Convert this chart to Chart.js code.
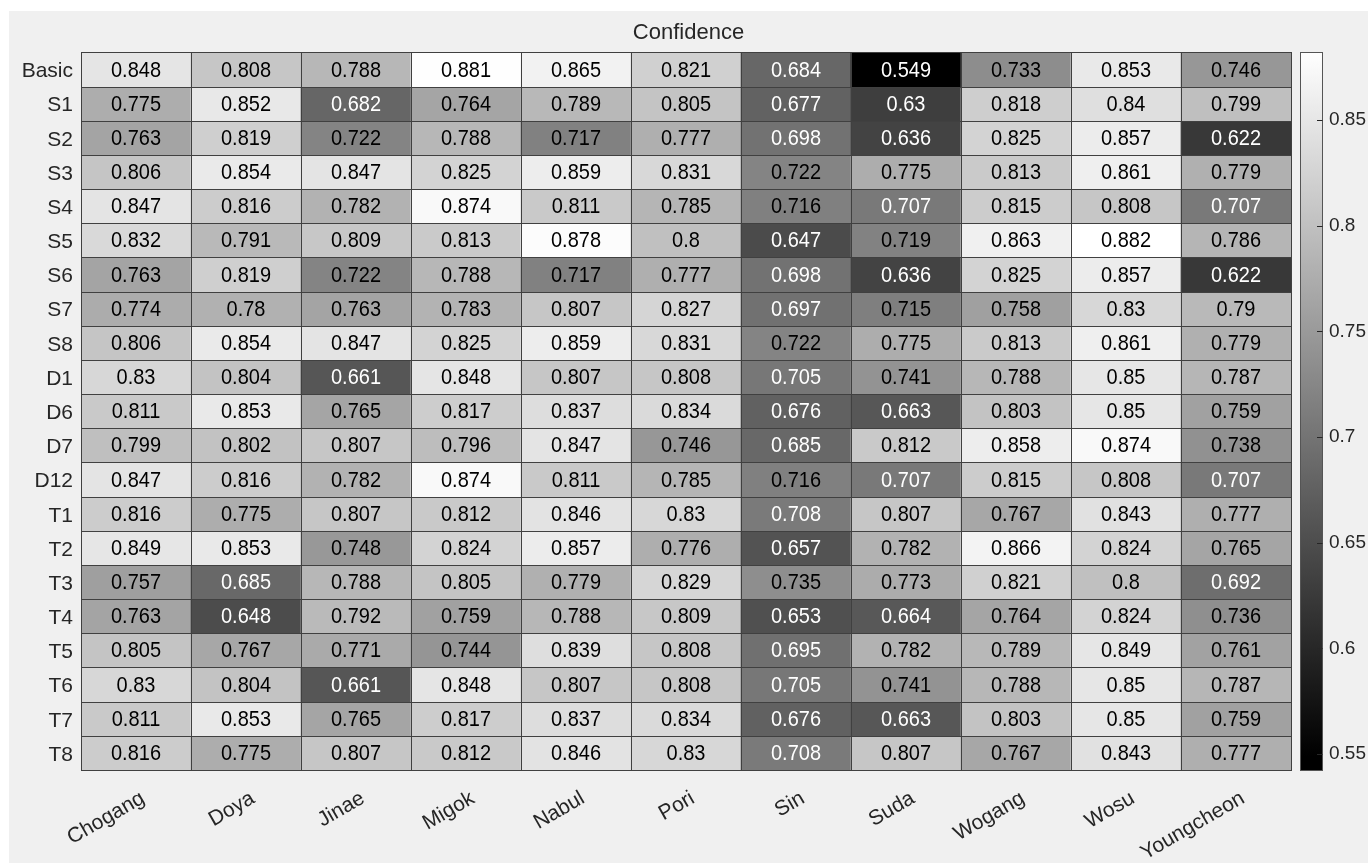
<!DOCTYPE html>
<html lang="en">

<head>
    <meta charset="UTF-8">
    <title>Confidence</title>
    <style>
        body {
            margin: 0;
            padding: 0;
            background-color: #fff;
        }

        #figure {
            position: absolute;
            left: 9px;
            top: 11px;
            width: 1359px;
            height: 852px;
            background-color: #f0f0f0;
        }
    </style>
</head>

<body>
    <div id="figure">
        <canvas id="heatmap" width="1359" height="852"></canvas>
    </div>

    <script src="https://cdn.jsdelivr.net/npm/chart.js"></script>
    <script>
        const stations = ['Chogang', 'Doya', 'Jinae', 'Migok', 'Nabul', 'Pori', 'Sin', 'Suda', 'Wogang', 'Wosu', 'Youngcheon'];
        const settings = ['Basic', 'S1', 'S2', 'S3', 'S4', 'S5', 'S6', 'S7', 'S8', 'D1', 'D6', 'D7', 'D12',
            'T1', 'T2', 'T3', 'T4', 'T5', 'T6', 'T7', 'T8'];

        // one row per setting, one column per station
        const confidence = [
            [0.848, 0.808, 0.788, 0.881, 0.865, 0.821, 0.684, 0.549, 0.733, 0.853, 0.746],
            [0.775, 0.852, 0.682, 0.764, 0.789, 0.805, 0.677, 0.63, 0.818, 0.84, 0.799],
            [0.763, 0.819, 0.722, 0.788, 0.717, 0.777, 0.698, 0.636, 0.825, 0.857, 0.622],
            [0.806, 0.854, 0.847, 0.825, 0.859, 0.831, 0.722, 0.775, 0.813, 0.861, 0.779],
            [0.847, 0.816, 0.782, 0.874, 0.811, 0.785, 0.716, 0.707, 0.815, 0.808, 0.707],
            [0.832, 0.791, 0.809, 0.813, 0.878, 0.8, 0.647, 0.719, 0.863, 0.882, 0.786],
            [0.763, 0.819, 0.722, 0.788, 0.717, 0.777, 0.698, 0.636, 0.825, 0.857, 0.622],
            [0.774, 0.78, 0.763, 0.783, 0.807, 0.827, 0.697, 0.715, 0.758, 0.83, 0.79],
            [0.806, 0.854, 0.847, 0.825, 0.859, 0.831, 0.722, 0.775, 0.813, 0.861, 0.779],
            [0.83, 0.804, 0.661, 0.848, 0.807, 0.808, 0.705, 0.741, 0.788, 0.85, 0.787],
            [0.811, 0.853, 0.765, 0.817, 0.837, 0.834, 0.676, 0.663, 0.803, 0.85, 0.759],
            [0.799, 0.802, 0.807, 0.796, 0.847, 0.746, 0.685, 0.812, 0.858, 0.874, 0.738],
            [0.847, 0.816, 0.782, 0.874, 0.811, 0.785, 0.716, 0.707, 0.815, 0.808, 0.707],
            [0.816, 0.775, 0.807, 0.812, 0.846, 0.83, 0.708, 0.807, 0.767, 0.843, 0.777],
            [0.849, 0.853, 0.748, 0.824, 0.857, 0.776, 0.657, 0.782, 0.866, 0.824, 0.765],
            [0.757, 0.685, 0.788, 0.805, 0.779, 0.829, 0.735, 0.773, 0.821, 0.8, 0.692],
            [0.763, 0.648, 0.792, 0.759, 0.788, 0.809, 0.653, 0.664, 0.764, 0.824, 0.736],
            [0.805, 0.767, 0.771, 0.744, 0.839, 0.808, 0.695, 0.782, 0.789, 0.849, 0.761],
            [0.83, 0.804, 0.661, 0.848, 0.807, 0.808, 0.705, 0.741, 0.788, 0.85, 0.787],
            [0.811, 0.853, 0.765, 0.817, 0.837, 0.834, 0.676, 0.663, 0.803, 0.85, 0.759],
            [0.816, 0.775, 0.807, 0.812, 0.846, 0.83, 0.708, 0.807, 0.767, 0.843, 0.777]
        ];

        // colorbar scale limits and ticks
        const colorbarMin = 0.5425;
        const colorbarMax = 0.882;
        const colorTicks = [0.55, 0.6, 0.65, 0.7, 0.75, 0.8, 0.85];

        const FONT = "'Liberation Sans', Arial, Helvetica, sans-serif";
        const allValues = confidence.flat();
        const vMin = Math.min(...allValues);
        const vMax = Math.max(...allValues);

        // gray colormap: black at the minimum, white at the maximum
        function level(v) {
            return (v - vMin) / (vMax - vMin);
        }
        function grayOf(v) {
            const g = Math.round(level(v) * 255);
            return `rgb(${g}, ${g}, ${g})`;
        }

        // each setting is one dataset of floating bars spanning its row
        const datasets = settings.map((name, i) => ({
            label: name,
            data: confidence[i].map((v, j) => ({ x: stations[j], y: [i, i + 1], v: v })),
            backgroundColor: confidence[i].map(grayOf),
            borderWidth: 0,
            grouped: false,
            barPercentage: 1,
            categoryPercentage: 1
        }));

        // cell borders and value labels
        const cellLabels = {
            id: 'cellLabels',
            afterDatasetsDraw(chart) {
                const ctx = chart.ctx;
                ctx.save();
                ctx.strokeStyle = '#404040';
                ctx.lineWidth = 1;
                chart.data.datasets.forEach((ds, i) => {
                    chart.getDatasetMeta(i).data.forEach((bar) => {
                        const left = Math.round(bar.x - bar.width / 2);
                        const right = Math.round(bar.x + bar.width / 2);
                        const top = Math.round(Math.min(bar.y, bar.base));
                        const bottom = Math.round(Math.max(bar.y, bar.base));
                        ctx.strokeRect(left + 0.5, top + 0.5, right - left, bottom - top);
                    });
                });
                ctx.font = `20px ${FONT}`;
                ctx.textAlign = 'center';
                ctx.textBaseline = 'middle';
                chart.data.datasets.forEach((ds, i) => {
                    chart.getDatasetMeta(i).data.forEach((bar, j) => {
                        const v = ds.data[j].v;
                        ctx.fillStyle = level(v) < 0.49 ? '#ffffff' : '#000000';
                        ctx.save();
                        ctx.translate(bar.x, (bar.y + bar.base) / 2 + 1);
                        ctx.scale(1, 1.1);
                        ctx.fillText(String(v), 0, 0);
                        ctx.restore();
                    });
                });
                ctx.restore();
            }
        };

        // gradient bar next to the grid
        const colorbar = {
            id: 'colorbar',
            afterDraw(chart) {
                const scale = chart.scales.cb;
                const ctx = chart.ctx;
                const x0 = Math.round(scale.left) + 9;
                const w = 22;
                const top = Math.round(scale.getPixelForValue(colorbarMax));
                const bottom = Math.round(scale.getPixelForValue(colorbarMin));
                const grad = ctx.createLinearGradient(0, bottom, 0, top);
                grad.addColorStop(0, '#000');
                grad.addColorStop((vMin - colorbarMin) / (colorbarMax - colorbarMin), '#000');
                grad.addColorStop((vMax - colorbarMin) / (colorbarMax - colorbarMin), '#fff');
                ctx.save();
                ctx.fillStyle = grad;
                ctx.fillRect(x0, top, w, bottom - top);
                ctx.strokeStyle = '#555';
                ctx.lineWidth = 1;
                ctx.strokeRect(x0 + 0.5, top + 0.5, w, bottom - top);
                ctx.strokeStyle = '#262626';
                scale.ticks.forEach((t) => {
                    const y = Math.round(scale.getPixelForValue(t.value)) + 0.5;
                    ctx.beginPath();
                    ctx.moveTo(x0 + w - 5, y);
                    ctx.lineTo(x0 + w + 0.5, y);
                    ctx.stroke();
                });
                ctx.restore();
            }
        };

        // keep the grid flush with the title: no extra room for edge labels
        function noEdgePadding(scale) {
            scale.paddingTop = 0;
            scale.paddingBottom = 0;
            scale.paddingLeft = 0;
            scale.paddingRight = 0;
        }

        const chart = new Chart(document.getElementById('heatmap'), {
            type: 'bar',
            data: { labels: stations, datasets: datasets },
            plugins: [cellLabels, colorbar],
            options: {
                responsive: false,
                animation: false,
                events: [],
                devicePixelRatio: 1,
                layout: { padding: 0 },
                plugins: {
                    legend: { display: false },
                    tooltip: { enabled: false },
                    title: {
                        display: true,
                        text: 'Confidence',
                        color: '#262626',
                        font: { family: FONT, size: 22, weight: 'normal' },
                        padding: { top: 9, bottom: 6 }
                    }
                },
                scales: {
                    x: {
                        type: 'category',
                        offset: true,
                        grid: { display: false, drawTicks: false },
                        border: { display: false },
                        ticks: {
                            color: '#262626',
                            font: { family: FONT, size: 21 },
                            minRotation: 30,
                            maxRotation: 30,
                            autoSkip: false,
                            labelOffset: 7,
                            padding: 16
                        },
                        afterFit(scale) {
                            scale.height = 93;
                            noEdgePadding(scale);
                        }
                    },
                    y: {
                        type: 'linear',
                        min: 0,
                        max: settings.length,
                        reverse: true,
                        grid: { display: false, drawTicks: false },
                        border: { display: false },
                        afterBuildTicks(scale) {
                            scale.ticks = settings.map((s, i) => ({ value: i + 0.5 }));
                        },
                        ticks: {
                            color: '#262626',
                            font: { family: FONT, size: 21 },
                            autoSkip: false,
                            padding: 8,
                            labelOffset: 2,
                            callback: (value) => settings[Math.floor(value)]
                        },
                        afterFit(scale) {
                            scale.width = 72;
                            noEdgePadding(scale);
                        }
                    },
                    cb: {
                        type: 'linear',
                        position: 'right',
                        min: colorbarMin,
                        max: colorbarMax,
                        grid: { display: false, drawTicks: false },
                        border: { display: false },
                        afterBuildTicks(scale) {
                            scale.ticks = colorTicks.map((v) => ({ value: v }));
                        },
                        ticks: {
                            color: '#262626',
                            font: { family: FONT, size: 19 },
                            autoSkip: false,
                            padding: 38,
                            callback: (value) => String(value)
                        },
                        afterFit(scale) {
                            scale.width = 77;
                            noEdgePadding(scale);
                        }
                    }
                }
            }
        });
    </script>
</body>

</html>
